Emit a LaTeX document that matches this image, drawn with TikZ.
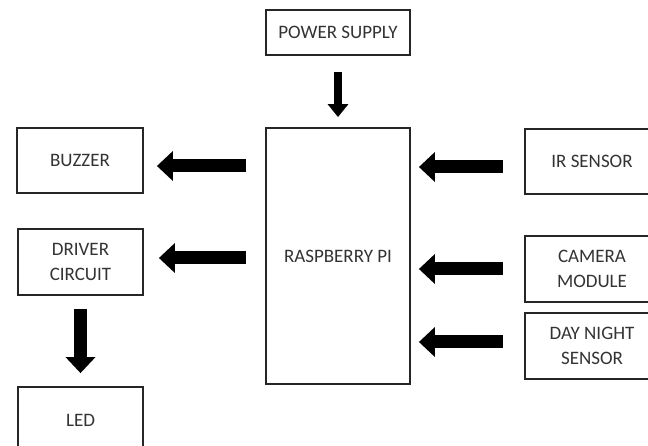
\documentclass[tikz,border=0pt]{standalone}
\usepackage{fontspec}
\setmainfont{Carlito}
\usetikzlibrary{arrows.meta,calc}
\definecolor{txt}{HTML}{333333}
\tikzset{
  blk/.style={draw=black!85, line width=1.8pt, fill=white, inner sep=0pt, align=center,
    font=\fontsize{19}{25}\selectfont, text=txt},
  fat/.style={line width=13pt, -{Triangle[width=29pt,length=16pt]}},
  thin/.style={line width=8pt, -{Triangle[width=20pt,length=13pt]}}
}
\begin{document}
\begin{tikzpicture}[x=1pt,y=-1pt]
\useasboundingbox (0,0) rectangle (648,446);
\clip (0,0) rectangle (648,446);
\fill[white] (0,0) rectangle (648,446);
% boxes (positions by centre)
\node[blk, minimum width=144pt, minimum height=45pt] (ps) at (338,32.5) {POWER SUPPLY};
\node[blk, minimum width=144pt, minimum height=256pt] (rpi) at (338,256) {RASPBERRY PI};
\node[blk, minimum width=126pt, minimum height=65pt] (buz) at (80,160.5) {BUZZER};
\node[blk, minimum width=125pt, minimum height=66pt] (drv) at (80.5,262) {DRIVER\\CIRCUIT};
\node[blk, minimum width=125pt, minimum height=66pt] (led) at (80.5,420) {LED};
\node[blk, minimum width=134pt, minimum height=65pt] (ir) at (592,161.5) {IR SENSOR};
\node[blk, minimum width=134pt, minimum height=66pt] (cam) at (592,269) {CAMERA\\MODULE};
\node[blk, minimum width=134pt, minimum height=66pt] (dn) at (592,346) {DAY NIGHT\\SENSOR};
% arrows
\draw[thin, shorten <=16pt, shorten >=10pt] (ps.south) -- (rpi.north);
\draw[fat, shorten <=19pt, shorten >=13pt] ([yshift=-5.5pt]rpi.west |- buz.east) -- ([yshift=-5.5pt]buz.east);
\draw[fat, shorten <=19pt, shorten >=15pt] ([yshift=4pt]rpi.west |- drv.east) -- ([yshift=4pt]drv.east);
\draw[fat, shorten <=13pt, shorten >=13pt] (drv.south) -- (led.north);
\draw[fat, shorten <=21pt, shorten >=8pt] ([yshift=-5.5pt]ir.west) -- ([yshift=-5.5pt]ir.west -| rpi.east);
\draw[fat, shorten <=21pt, shorten >=8pt] (cam.west) -- (cam.west -| rpi.east);
\draw[fat, shorten <=21pt, shorten >=8pt] ([yshift=4pt]dn.west) -- ([yshift=4pt]dn.west -| rpi.east);
\end{tikzpicture}
\end{document}
